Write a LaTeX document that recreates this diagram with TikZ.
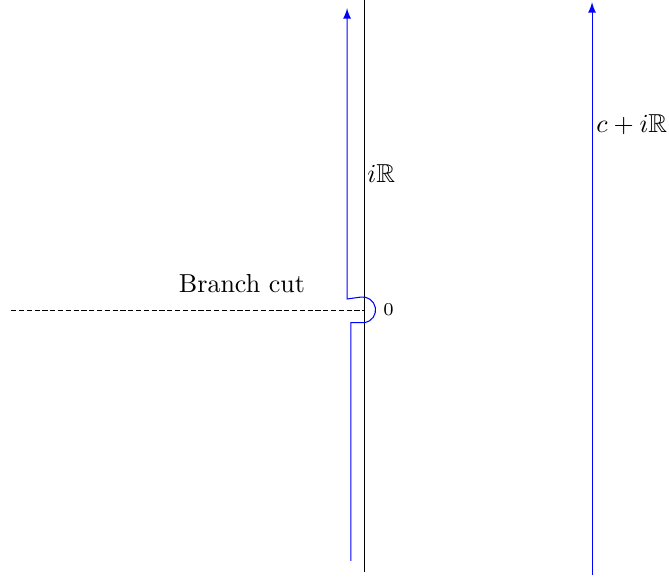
\documentclass[tikz,border=0pt]{standalone}
\usepackage{amssymb}
\usetikzlibrary{arrows}
\begin{document}
\begin{tikzpicture}[contour/.style={blue, ->, >=latex}, cut/.style={dash pattern=on 2pt off 1pt}]
	\useasboundingbox (-4.93, -3.64) rectangle (4.11, 4.19);
	\draw (0, -3.54) -- (0, 4.19) node[right, inner sep=0.8pt] (imag) at (0, 1.84) {$i\mathbb{R}$};
	\draw[cut] (-4.78, 0) -- (0, 0) node (cutlabel) at (-1.66, 0.36) {Branch cut};
	\node (zero) at (0.32, 0) {\scriptsize $0$};
	\draw[contour] (-0.19, -3.39) -- (-0.19, -0.17) -- (0, -0.17) arc[start angle=-80, end angle=100, radius=0.175] -- (-0.24, 0.15) -- (-0.24, 4.08);
	\draw[contour] (3.07, -3.58) -- (3.07, 4.16);
	\node[right, inner sep=1.5pt] (line) at (3.07, 2.51) {$c+i\mathbb{R}$};
\end{tikzpicture}
\end{document}
